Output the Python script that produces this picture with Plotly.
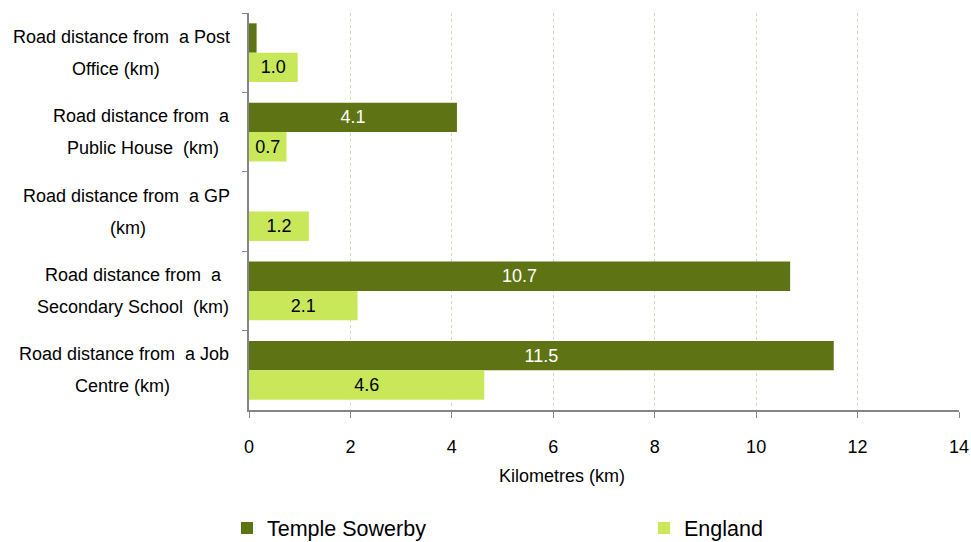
import plotly.graph_objects as go

categories = [
    "Road distance from a Post Office (km)",
    "Road distance from a Public House (km)",
    "Road distance from a GP (km)",
    "Road distance from a Secondary School (km)",
    "Road distance from a Job Centre (km)",
]
label_line1 = ["Road distance from  a Post", "Road distance from  a", "Road distance from  a GP",
               "Road distance from  a", "Road distance from  a Job"]
label_line2 = ["Office (km)", "Public House  (km)", "(km)", "Secondary School  (km)", "Centre (km)"]
# approximate page-pixel centres of each label line (block right-aligned, lines centred)
label_center1 = [121, 141, 126, 133, 124]
label_center2 = [116, 143, 128, 133, 123]

temple_sowerby = [0.15, 4.1, None, 10.67, 11.53]
england = [0.96, 0.74, 1.18, 2.14, 4.64]

x_ticks = [0, 2, 4, 6, 8, 10, 12, 14]
x_title = "Kilometres (km)"

DARK = "#5E7313"
LIGHT = "#C8E85A"
FONT = "Liberation Sans, Arial, sans-serif"
FS = 18

def fmt(vals):
    return ["" if (v is None or v < 0.5) else f"{v:.1f}" for v in vals]

W, H = 971, 542
PL, PR, PT, PB = 249, 959, 13, 410          # plot area in page pixels
L, R, T, B = PL, (W - PR), PT, H - PB
pw = PR - PL

fig = go.Figure()
fig.add_trace(go.Bar(
    y=categories, x=temple_sowerby, orientation="h", name="Temple Sowerby",
    marker=dict(color=DARK, line=dict(width=0)),
    text=fmt(temple_sowerby), textposition="inside", insidetextanchor="middle",
    textfont=dict(color="white", size=FS, family=FONT), textangle=0,
    hoverinfo="x+name", legend="legend", showlegend=True,
))
fig.add_trace(go.Bar(
    y=categories, x=england, orientation="h", name="England",
    marker=dict(color=LIGHT, line=dict(width=0)),
    text=fmt(england), textposition="inside", insidetextanchor="middle",
    textfont=dict(color="black", size=FS, family=FONT), textangle=0,
    hoverinfo="x+name", legend="legend2", showlegend=True,
))

annotations = []
for i, c in enumerate(categories):
    for line, cx, shift in ((label_line1[i], label_center1[i], 16), (label_line2[i], label_center2[i], -16)):
        annotations.append(dict(
            x=(cx - PL) / pw, xref="paper", y=c, yref="y", yshift=shift,
            text=line, showarrow=False, xanchor="center", yanchor="middle",
            font=dict(size=FS, family=FONT, color="black"),
        ))
annotations.append(dict(
    x=(562 - PL) / pw, xref="paper", y=0, yref="paper", yshift=-66,
    text=x_title, showarrow=False, xanchor="center", yanchor="middle",
    font=dict(size=FS, family=FONT, color="black"),
))

legend_common = dict(
    orientation="h", xref="container", yref="container", yanchor="middle", xanchor="left",
    font=dict(size=21.5, family=FONT, color="black"), itemwidth=30,
    bgcolor="rgba(0,0,0,0)", visible=True,
)

fig.update_layout(
    width=W, height=H, showlegend=True,
    margin=dict(l=L, r=R, t=T, b=B, autoexpand=False),
    paper_bgcolor="white", plot_bgcolor="white",
    barmode="group", bargap=0.26, bargroupgap=0,
    font=dict(family=FONT, size=FS, color="black"),
    uniformtext=dict(minsize=8, mode="show"),
    xaxis=dict(
        range=[0, 14], tickvals=x_ticks, ticktext=[str(t) for t in x_ticks],
        showgrid=True, gridcolor="#D6D6BC", griddash="dot", gridwidth=1,
        zeroline=False, showline=True, linecolor="#868686", linewidth=2,
        ticks="outside", ticklen=6, tickcolor="#868686", tickwidth=1,
        ticklabelstandoff=13, automargin=False,
        tickfont=dict(size=FS, family=FONT),
    ),
    yaxis=dict(
        categoryorder="array", categoryarray=categories, autorange="reversed",
        showticklabels=False, tickson="boundaries", ticks="outside", ticklen=5,
        tickcolor="#868686", showline=True, linecolor="#868686", linewidth=2,
        showgrid=False, zeroline=False, automargin=False,
    ),
    legend=dict(x=(241 - 14) / W, y=(542 - 528) / H, **legend_common),
    legend2=dict(x=(658 - 14) / W, y=(542 - 528) / H, **legend_common),
    annotations=annotations,
)

fig.write_html(
    "out.html",
    config={"displayModeBar": False},
    post_script="document.body.style.margin='0';document.body.style.overflow='hidden';",
)
